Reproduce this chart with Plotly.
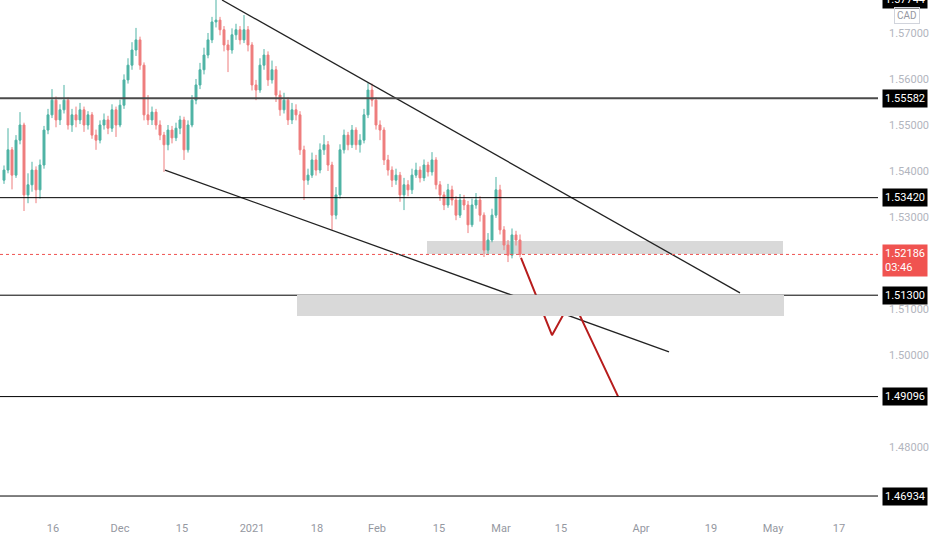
import plotly.graph_objects as go

# USDCAD-style 12h candles (price)
opens = [1.5380, 1.5402, 1.5446, 1.5391, 1.5467, 1.5500, 1.5348, 1.5370, 1.5402, 1.5359,
         1.5413, 1.5489, 1.5522, 1.5554, 1.5511, 1.5533, 1.5554, 1.5500, 1.5522, 1.5511,
         1.5533, 1.5500, 1.5522, 1.5478, 1.5467, 1.5500, 1.5511, 1.5493, 1.5533, 1.5500,
         1.5543, 1.5598, 1.5630, 1.5663, 1.5685, 1.5630, 1.5522, 1.5511, 1.5528, 1.5500,
         1.5478, 1.5457, 1.5489, 1.5472, 1.5493, 1.5511, 1.5446, 1.5500, 1.5554, 1.5587,
         1.5620, 1.5652, 1.5685, 1.5724, 1.5728, 1.5707, 1.5674, 1.5663, 1.5696, 1.5707,
         1.5685, 1.5707, 1.5674, 1.5587, 1.5576, 1.5630, 1.5652, 1.5598, 1.5620, 1.5565,
         1.5533, 1.5554, 1.5511, 1.5533, 1.5522, 1.5446, 1.5380, 1.5391, 1.5424, 1.5402,
         1.5446, 1.5457, 1.5413, 1.5304, 1.5348, 1.5446, 1.5478, 1.5457, 1.5489, 1.5457,
         1.5467, 1.5522, 1.5576, 1.5554, 1.5500, 1.5489, 1.5424, 1.5402, 1.5380, 1.5391,
         1.5348, 1.5370, 1.5359, 1.5391, 1.5402, 1.5385, 1.5413, 1.5398, 1.5424, 1.5370,
         1.5348, 1.5326, 1.5359, 1.5337, 1.5304, 1.5337, 1.5326, 1.5283, 1.5326, 1.5337,
         1.5304, 1.5228, 1.5250, 1.5304, 1.5359, 1.5272, 1.5239, 1.5217, 1.5261, 1.5250]
highs = [1.5412, 1.5493, 1.5452, 1.5478, 1.5528, 1.5505, 1.5395, 1.5420, 1.5410, 1.5425,
         1.5498, 1.5535, 1.5578, 1.5562, 1.5545, 1.5587, 1.5560, 1.5535, 1.5540, 1.5548,
         1.5540, 1.5530, 1.5528, 1.5490, 1.5510, 1.5525, 1.5520, 1.5545, 1.5540, 1.5555,
         1.5610, 1.5645, 1.5680, 1.5711, 1.5692, 1.5636, 1.5565, 1.5540, 1.5535, 1.5510,
         1.5485, 1.5500, 1.5498, 1.5505, 1.5520, 1.5518, 1.5510, 1.5565, 1.5600, 1.5635,
         1.5668, 1.5700, 1.5735, 1.5772, 1.5735, 1.5715, 1.5685, 1.5710, 1.5720, 1.5715,
         1.5739, 1.5715, 1.5680, 1.5598, 1.5645, 1.5665, 1.5660, 1.5640, 1.5628, 1.5575,
         1.5570, 1.5560, 1.5548, 1.5545, 1.5530, 1.5455, 1.5405, 1.5440, 1.5435, 1.5460,
         1.5478, 1.5465, 1.5420, 1.5365, 1.5458, 1.5490, 1.5485, 1.5500, 1.5495, 1.5480,
         1.5535, 1.5591, 1.5590, 1.5560, 1.5510, 1.5495, 1.5435, 1.5410, 1.5405, 1.5398,
         1.5385, 1.5380, 1.5405, 1.5418, 1.5410, 1.5425, 1.5420, 1.5441, 1.5430, 1.5378,
         1.5355, 1.5372, 1.5368, 1.5345, 1.5350, 1.5348, 1.5335, 1.5340, 1.5352, 1.5345,
         1.5310, 1.5265, 1.5318, 1.5387, 1.5370, 1.5280, 1.5250, 1.5275, 1.5270, 1.5262]
lows = [1.5372, 1.5395, 1.5360, 1.5385, 1.5458, 1.5313, 1.5330, 1.5355, 1.5330, 1.5340,
        1.5405, 1.5480, 1.5515, 1.5495, 1.5500, 1.5525, 1.5490, 1.5485, 1.5495, 1.5502,
        1.5485, 1.5490, 1.5470, 1.5446, 1.5460, 1.5490, 1.5480, 1.5485, 1.5474, 1.5495,
        1.5535, 1.5590, 1.5620, 1.5650, 1.5620, 1.5510, 1.5500, 1.5500, 1.5490, 1.5467,
        1.5398, 1.5445, 1.5460, 1.5465, 1.5480, 1.5424, 1.5440, 1.5495, 1.5545, 1.5578,
        1.5610, 1.5645, 1.5678, 1.5712, 1.5695, 1.5660, 1.5615, 1.5655, 1.5685, 1.5675,
        1.5678, 1.5660, 1.5575, 1.5554, 1.5570, 1.5620, 1.5585, 1.5590, 1.5550, 1.5520,
        1.5525, 1.5500, 1.5502, 1.5510, 1.5435, 1.5337, 1.5370, 1.5385, 1.5390, 1.5395,
        1.5435, 1.5400, 1.5272, 1.5295, 1.5340, 1.5438, 1.5445, 1.5450, 1.5446, 1.5440,
        1.5460, 1.5515, 1.5540, 1.5490, 1.5467, 1.5413, 1.5390, 1.5365, 1.5370, 1.5333,
        1.5315, 1.5345, 1.5350, 1.5385, 1.5375, 1.5378, 1.5388, 1.5390, 1.5360, 1.5335,
        1.5315, 1.5320, 1.5325, 1.5293, 1.5298, 1.5315, 1.5265, 1.5278, 1.5318, 1.5290,
        1.5213, 1.5220, 1.5245, 1.5298, 1.5262, 1.5228, 1.5202, 1.5210, 1.5238, 1.5212]
closes = [1.5402, 1.5446, 1.5391, 1.5467, 1.5500, 1.5348, 1.5370, 1.5402, 1.5359, 1.5413,
          1.5489, 1.5522, 1.5554, 1.5511, 1.5533, 1.5554, 1.5500, 1.5522, 1.5511, 1.5533,
          1.5500, 1.5522, 1.5478, 1.5467, 1.5500, 1.5511, 1.5493, 1.5533, 1.5500, 1.5543,
          1.5598, 1.5630, 1.5663, 1.5685, 1.5630, 1.5522, 1.5511, 1.5528, 1.5500, 1.5478,
          1.5457, 1.5489, 1.5472, 1.5493, 1.5511, 1.5446, 1.5500, 1.5554, 1.5587, 1.5620,
          1.5652, 1.5685, 1.5724, 1.5728, 1.5707, 1.5674, 1.5663, 1.5696, 1.5707, 1.5685,
          1.5707, 1.5674, 1.5587, 1.5576, 1.5630, 1.5652, 1.5598, 1.5620, 1.5565, 1.5533,
          1.5554, 1.5511, 1.5533, 1.5522, 1.5446, 1.5380, 1.5391, 1.5424, 1.5402, 1.5446,
          1.5457, 1.5413, 1.5304, 1.5348, 1.5446, 1.5478, 1.5457, 1.5489, 1.5457, 1.5467,
          1.5522, 1.5576, 1.5554, 1.5500, 1.5489, 1.5424, 1.5402, 1.5380, 1.5391, 1.5348,
          1.5370, 1.5359, 1.5391, 1.5402, 1.5385, 1.5413, 1.5398, 1.5424, 1.5370, 1.5348,
          1.5326, 1.5359, 1.5337, 1.5304, 1.5337, 1.5326, 1.5283, 1.5326, 1.5337, 1.5304,
          1.5228, 1.5250, 1.5304, 1.5359, 1.5272, 1.5239, 1.5217, 1.5261, 1.5250, 1.52186]
bars = list(range(1, len(closes) + 1))

# time axis labels (bar positions)
x_range = [0, 219.5]
tick_pos = [13.25, 30, 45.5, 63, 79.25, 94.25, 109.75, 125.25, 140.25, 160.25, 177.75, 193.25, 209.75]
tick_text = ["16", "Dec", "15", "2021", "18", "Feb", "15", "Mar", "15", "Apr", "19", "May", "17"]
price_ticks = [1.48, 1.50, 1.51, 1.53, 1.54, 1.55, 1.56, 1.57]

# drawn levels and tools
levels = [1.55582, 1.53420, 1.51300, 1.49096, 1.46934]
last_price = 1.52186
high_label = 1.57744
upper_trend_x = [55.5, 185]
upper_trend_y = [1.57717, 1.5135]
lower_trend_x = [41.25, 167.25]
lower_trend_y = [1.5402, 1.5007]
proj_x = [130.25, 138, 143, 154.5]
proj_y = [1.5211, 1.5043, 1.5122, 1.4910]
zone_top = [106.75, 195.75, 1.52478, 1.52196]
zone_low = [74.25, 196, 1.51310, 1.50848]

fig = go.Figure()
fig.add_trace(go.Candlestick(
    x=bars, open=opens, high=highs, low=lows, close=closes,
    increasing=dict(line=dict(color="#4fb3a5", width=1), fillcolor="#4fb3a5"),
    decreasing=dict(line=dict(color="#ee7d7d", width=1), fillcolor="#ee7d7d"),
    whiskerwidth=0, showlegend=False, hoverinfo="skip"))

shapes = []
# grey zones (upper one sits under the candles)
shapes.append(dict(type="rect", xref="x", yref="y", x0=zone_top[0], x1=zone_top[1],
                   y0=zone_top[3], y1=zone_top[2], fillcolor="#d9d9d9", line_width=0, layer="below"))
for i, lv in enumerate(levels):
    shapes.append(dict(type="line", xref="x", yref="y", x0=x_range[0], x1=x_range[1], y0=lv, y1=lv,
                       line=dict(color="#4a4a4a" if i == 0 else "#000000", width=2 if i == 0 else 1),
                       layer="above"))
shapes.append(dict(type="rect", xref="x", yref="y", x0=zone_low[0], x1=zone_low[1],
                   y0=zone_low[3], y1=zone_low[2], fillcolor="#d9d9d9", line_width=0, layer="above"))
shapes.append(dict(type="line", xref="x", yref="y", x0=x_range[0], x1=x_range[1], y0=last_price,
                   y1=last_price, line=dict(color="#ef5350", width=1, dash="dot"), layer="above"))
fig.update_layout(shapes=shapes)

fig.add_trace(go.Scatter(x=upper_trend_x, y=upper_trend_y, mode="lines",
                         line=dict(color="#222222", width=1.3), showlegend=False, hoverinfo="skip"))
fig.add_trace(go.Scatter(x=lower_trend_x, y=lower_trend_y, mode="lines",
                         line=dict(color="#222222", width=1.3), showlegend=False, hoverinfo="skip"))
fig.add_trace(go.Scatter(x=proj_x, y=proj_y, mode="lines",
                         line=dict(color="#b71c1c", width=2), showlegend=False, hoverinfo="skip"))

font_name = "Roboto, sans-serif"

# price labels on the right scale
for lv in levels:
    fig.add_annotation(xref="paper", yref="y", x=1, xshift=4, xanchor="left", y=lv,
                       text=f"{lv:.5f}", showarrow=False, bgcolor="#000000", borderpad=2,
                       font=dict(color="white", size=11, family=font_name))
fig.add_annotation(xref="paper", yref="y", x=1, xshift=4, xanchor="left", y=last_price, yshift=-6,
                   text=f"{last_price:.5f}<br>03:46", showarrow=False, bgcolor="#f05350", borderpad=2,
                   align="left", font=dict(color="white", size=11, family=font_name))
fig.add_annotation(xref="paper", yref="paper", x=1, xshift=4, xanchor="left", y=1, yshift=1,
                   yanchor="middle", text=f"{high_label:.5f}", showarrow=False, bgcolor="#000000",
                   borderpad=2, font=dict(color="white", size=11, family=font_name))
fig.add_annotation(xref="paper", yref="paper", x=1, xshift=16, xanchor="left", y=1, yshift=-15,
                   yanchor="middle", text="CAD", showarrow=False, bordercolor="#d1d4dc", borderwidth=1,
                   borderpad=2, font=dict(color="#9598a1", size=10, family=font_name))

fig.update_layout(
    width=932, height=550,
    margin=dict(l=0, r=54, t=0, b=30, autoexpand=False),
    paper_bgcolor="white", plot_bgcolor="white",
    font=dict(family=font_name),
    xaxis=dict(range=x_range, rangeslider=dict(visible=False), showgrid=False, zeroline=False,
               tickvals=tick_pos, ticktext=tick_text, ticks="", showline=False, automargin=False,
               tickfont=dict(color="#9598a1", size=11)),
    yaxis=dict(range=[1.46413, 1.57717], side="right", showgrid=False, zeroline=False,
               tickvals=price_ticks, tickformat=".5f", ticks="", showline=False, automargin=False,
               ticklabelstandoff=10, tickfont=dict(color="#b2b5be", size=11)),
)

# the page's default body margin would shift the chart by 8px
fig.write_html("out.html", config={"displayModeBar": False},
               post_script="document.body.style.margin='0px';")
